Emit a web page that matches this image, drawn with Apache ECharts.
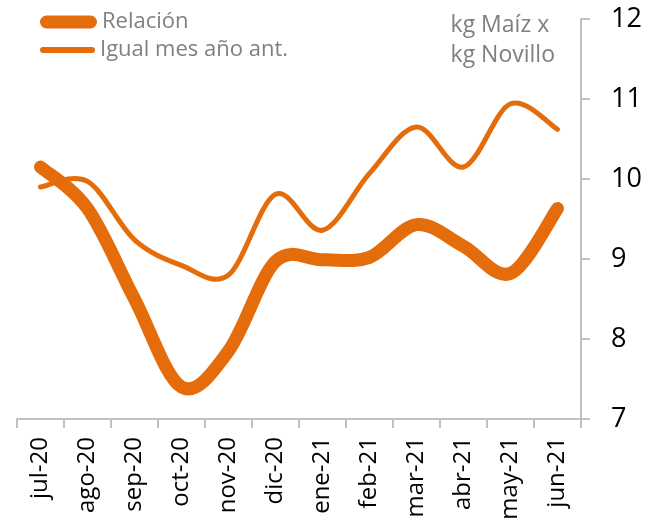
<!DOCTYPE html>
<html>
<head>
<meta charset="utf-8">
<script src="https://cdn.jsdelivr.net/npm/echarts@6/dist/echarts.min.js"></script>
<style>
	html, body { margin: 0; padding: 0; background: #fff; }
	#chart { width: 648px; height: 518px; }
</style>
</head>
<body>
<div id="chart"></div>
<script type="text/javascript">
	// meses
	var meses = ['jul-20','ago-20','sep-20','oct-20','nov-20','dic-20','ene-21','feb-21','mar-21','abr-21','may-21','jun-21'];
	// kg maiz x kg novillo
	var relacion = [10.15, 9.63, 8.5, 7.4, 7.85, 8.97, 8.99, 9.02, 9.43, 9.16, 8.82, 9.63];
	var igualMes = [9.9, 9.97, 9.24, 8.92, 8.8, 9.81, 9.36, 10.07, 10.65, 10.15, 10.94, 10.62];
	var yTicks = [7, 8, 9, 10, 11, 12];

	var naranja = '#E46C0A';
	var gris = '#808080';
	var fuente = '"Open Sans", "Noto Sans", sans-serif';

	// curva suavizada tipo excel (catmull-rom) sobre las coordenadas del eje
	function curva(valores, ancho) {
		return function (params, api) {
			if (params.dataIndex !== 0) return null;
			var p = [];
			for (var i = 0; i < valores.length; i++) {
				p.push(api.coord([i, valores[i]]));
			}
			var d = 'M' + p[0][0] + ' ' + p[0][1];
			for (var j = 0; j < p.length - 1; j++) {
				var a = p[j - 1] || p[j];
				var b = p[j];
				var c = p[j + 1];
				var e = p[j + 2] || p[j + 1];
				var c1x = b[0] + (c[0] - a[0]) / 6, c1y = b[1] + (c[1] - a[1]) / 6;
				var c2x = c[0] - (e[0] - b[0]) / 6, c2y = c[1] - (e[1] - b[1]) / 6;
				d += ' C' + c1x + ' ' + c1y + ' ' + c2x + ' ' + c2y + ' ' + c[0] + ' ' + c[1];
			}
			return {
				type: 'path',
				shape: {pathData: d},
				style: {
					fill: 'none',
					stroke: naranja,
					lineWidth: ancho,
					lineCap: 'round',
					lineJoin: 'round'
				}
			};
		};
	}

	function pares(valores) {
		return valores.map(function (v, i) { return [i, v]; });
	}

	var myChart = echarts.init(document.getElementById('chart'));
	var option = {
		animation: false,
		title: {
			text: 'kg Maíz x\nkg Novillo',
			right: 93,
			top: 10,
			padding: 0,
			textStyle: {
				color: gris,
				fontSize: 23,
				fontWeight: 'normal',
				fontFamily: fuente,
				lineHeight: 30,
				align: 'right'
			}
		},
		legend: [
			{
				data: [{name: 'Relación', icon: 'path://M6.5,0 L50.5,0 A6.5,6.5 0 0 1 50.5,13 L6.5,13 A6.5,6.5 0 0 1 6.5,0 Z'}],
				left: 40,
				top: 11,
				padding: 0,
				itemWidth: 57,
				itemHeight: 13,
				textStyle: {color: gris, fontSize: 22, fontFamily: fuente}
			},
			{
				data: [{name: 'Igual mes año ant.', icon: 'path://M3,0 L52,0 A3,3 0 0 1 52,6 L3,6 A3,3 0 0 1 3,0 Z'}],
				left: 40,
				top: 39,
				padding: 0,
				itemWidth: 55,
				itemHeight: 6,
				textStyle: {color: gris, fontSize: 22, fontFamily: fuente}
			}
		],
		grid: {
			left: 17,
			right: 67,
			top: 19,
			bottom: 99,
			containLabel: false,
			outerBoundsMode: 'none'
		},
		xAxis: {
			type: 'category',
			data: meses,
			boundaryGap: true,
			axisLine: {lineStyle: {color: '#BFBFBF', width: 2}},
			axisTick: {show: true, length: 9, lineStyle: {color: '#BFBFBF', width: 2}},
			axisLabel: {
				rotate: 90,
				interval: 0,
				margin: 18,
				color: '#000',
				fontSize: 24,
				fontFamily: fuente
			}
		},
		yAxis: {
			type: 'value',
			position: 'right',
			min: yTicks[0],
			max: yTicks[yTicks.length - 1],
			interval: 1,
			splitLine: {show: false},
			axisLine: {show: true, lineStyle: {color: '#BFBFBF', width: 2}},
			axisTick: {show: true, length: 9, lineStyle: {color: '#BFBFBF', width: 2}},
			axisLabel: {
				margin: 30,
				color: '#000',
				fontSize: 27,
				fontFamily: fuente
			}
		},
		series: [
			{
				name: 'Relación',
				type: 'custom',
				data: pares(relacion),
				encode: {x: 0, y: 1},
				itemStyle: {color: naranja},
				renderItem: curva(relacion, 13)
			},
			{
				name: 'Igual mes año ant.',
				type: 'custom',
				data: pares(igualMes),
				encode: {x: 0, y: 1},
				itemStyle: {color: naranja},
				renderItem: curva(igualMes, 5)
			}
		]
	};
	myChart.setOption(option);
</script>
</body>
</html>
